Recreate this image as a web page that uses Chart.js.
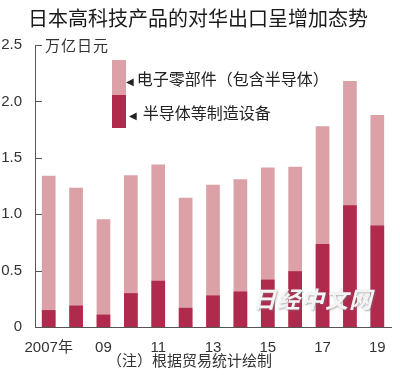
<!DOCTYPE html>
<html lang="zh-CN">
<head>
  <meta charset="UTF-8" />
  <title>日本高科技产品的对华出口呈增加态势</title>
  <script src="https://cdn.jsdelivr.net/npm/chart.js"></script>
</head>
<body style="margin: 0; padding: 0; background: white; font-family: 'Noto Sans CJK SC', sans-serif; color: #222;">

<div style="position: relative; width: 400px; height: 375px; overflow: hidden;">

  <canvas id="chart" width="400" height="375" style="position: absolute; left: 0; top: 0;"></canvas>

  <div style="position: absolute; left: 0; width: 396px; top: 4px; text-align: center; font-size: 20px; line-height: 28px; color: #1a1a1a;">日本高科技产品的对华出口呈增加态势</div>

  <div style="position: absolute; left: 45px; top: 35px; font-size: 15px; line-height: 20px; color: #333; letter-spacing: 1px;">万亿日元</div>

  <div id="legend" style="position: absolute; left: 112px; top: 60px;"></div>

  <div style="position: absolute; left: 253px; top: 283px; font-size: 23px; line-height: 30px; font-weight: bold; font-style: italic; color: #f4f4f4; text-shadow: 1px 1px 2px rgba(120,120,120,0.6); letter-spacing: 1px;">日经中文网</div>

  <div style="position: absolute; left: 107px; top: 350px; font-size: 15px; line-height: 20px; color: #333;">（注）根据贸易统计绘制</div>
</div>

<script>
  const years = ['2007', '2008', '2009', '2010', '2011', '2012', '2013', '2014', '2015', '2016', '2017', '2018', '2019'];
  const xTickLabels = ['2007年', '', '09', '', '11', '', '13', '', '15', '', '17', '', '19'];
  const yTickLabels = ['0', '0.5', '1.0', '1.5', '2.0', '2.5'];

  // 电子零部件（包含半导体）, 万亿日元
  const electronicParts = [1.34, 1.235, 0.955, 1.345, 1.44, 1.145, 1.26, 1.31, 1.415, 1.42, 1.78, 2.18, 1.88];
  // 半导体等制造设备
  const semiEquipment = [0.15, 0.19, 0.11, 0.30, 0.41, 0.17, 0.28, 0.315, 0.42, 0.495, 0.735, 1.08, 0.90];

  const seriesNames = ['电子零部件（包含半导体）', '半导体等制造设备'];
  const pink = '#dba1a7';
  const darkRed = '#b02a4e';
  const axisColor = '#555';

  // legend (HTML)
  const legend = document.getElementById('legend');
  [[pink, seriesNames[0]], [darkRed, seriesNames[1]]].forEach(function (item, i) {
    const row = document.createElement('div');
    row.style.cssText = 'display: flex; align-items: center; height: ' + (i === 0 ? 35 : 33) + 'px;';
    row.innerHTML =
      '<div style="width: 14px; height: 100%; background: ' + item[0] + ';"></div>' +
      '<div style="margin-left: ' + (i === 0 ? 0 : 3) + 'px; font-size: 16px; color: #222; white-space: nowrap;">' +
      '<span style="font-size: 10px; font-family: DejaVu Sans; margin-right: ' + (i === 0 ? 3 : 6) + 'px;">◀</span>' + item[1] + '</div>';
    legend.appendChild(row);
  });

  // small tick marks pointing into the plot, like the original
  const inwardTicks = {
    id: 'inwardTicks',
    afterDraw(chart) {
      const ctx = chart.ctx;
      const y = chart.scales.y;
      ctx.save();
      ctx.strokeStyle = axisColor;
      ctx.lineWidth = 1;
      y.ticks.forEach(function (t) {
        if (t.value === 0) return;
        const py = Math.round(y.getPixelForValue(t.value)) + 0.5;
        ctx.beginPath();
        ctx.moveTo(y.right, py);
        ctx.lineTo(y.right + 7, py);
        ctx.stroke();
      });
      ctx.restore();
    }
  };

  new Chart(document.getElementById('chart').getContext('2d'), {
    type: 'bar',
    data: {
      labels: years,
      datasets: [
        {
          label: seriesNames[1],
          data: semiEquipment,
          backgroundColor: darkRed,
          barPercentage: 0.5,
          categoryPercentage: 1.0
        },
        {
          label: seriesNames[0],
          data: electronicParts,
          backgroundColor: pink,
          barPercentage: 0.5,
          categoryPercentage: 1.0
        }
      ]
    },
    options: {
      responsive: false,
      animation: false,
      layout: { padding: { top: 45, right: 9, left: 0, bottom: 0 } },
      plugins: {
        legend: { display: false },
        tooltip: { enabled: false },
        title: { display: false }
      },
      scales: {
        x: {
          stacked: true,
          grid: { display: false },
          border: { display: true, color: axisColor, width: 1 },
          ticks: {
            autoSkip: false,
            maxRotation: 0,
            padding: 4,
            color: '#333',
            font: { family: "'Liberation Sans', 'Noto Sans CJK SC', sans-serif", size: 15 },
            callback: function (v, i) { return xTickLabels[i]; }
          },
          afterFit: function (s) { s.height = 48; }
        },
        y: {
          stacked: false,
          min: 0,
          max: 2.5,
          grid: { display: false },
          border: { display: true, color: axisColor, width: 1 },
          ticks: {
            stepSize: 0.5,
            padding: 5,
            color: '#333',
            font: { family: "'Liberation Sans', sans-serif", size: 15 },
            callback: function (v, i) { return yTickLabels[i]; }
          },
          afterFit: function (s) { s.width = 35; }
        }
      }
    },
    plugins: [inwardTicks]
  });
</script>
</body>
</html>
